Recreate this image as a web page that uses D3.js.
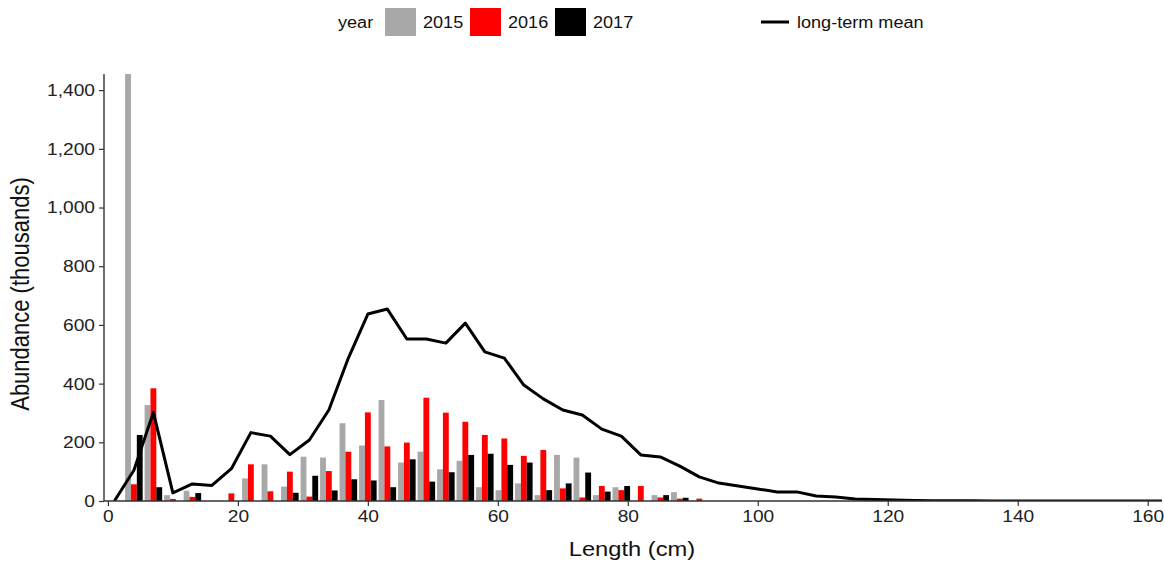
<!DOCTYPE html>
<html>
<head>
<meta charset="utf-8">
<script src="https://cdn.jsdelivr.net/npm/d3@7"></script>
<style>
  html, body { margin: 0; padding: 0; background: #fff; }
  svg { display: block; font-family: "Liberation Sans", Arial, sans-serif; }
</style>
</head>
<body>
<svg id="chart" width="1164" height="561"></svg>
<script>
// ---- data ----
const lengths = [1,4,7,10,13,16,19,22,25,28,31,34,37,40,43,46,49,52,55,58,61,64,67,70,73,76,79,82,85,88,91];
const y2015 = [0,1455,327,20,35,0,0,77,125,49,151,148,265,189,344,131,168,108,137,47,37,60,20,157,148,20,47,0,20,30,0];
const y2016 = [0,57,384,7,14,0,26,125,33,100,15,102,168,302,186,199,352,301,270,225,213,154,174,43,12,51,37,51,12,8,8];
const y2017 = [0,225,47,0,27,0,0,0,0,28,86,36,74,70,47,142,66,98,157,161,123,131,37,60,97,32,51,0,20,11,0];
const years = ["2015","2016","2017"];
const yearColors = ["#A8A8A8","#FF0000","#000000"];
const meanLengths = [1,4,7,10,13,16,19,22,25,28,31,34,37,40,43,46,49,52,55,58,61,64,67,70,73,76,79,82,85,88,91,94,97,100,103,106,109,112,115,118,121,124,127,130,133,136,139,142,145,148,151,154,157,160,163];
const meanValues = [0,105,302,28,58,53,110,233,221,158,208,310,487,637,654,552,552,538,606,508,487,395,348,310,293,245,221,157,150,119,82,61,51,41,31,31,17,14,7,5,3,2,1,1,1,0,0,0,0,0,0,0,0,0,0];
const xTicks = [0,20,40,60,80,100,120,140,160];
const yTicks = [0,200,400,600,800,1000,1200,1400];

// ---- layout ----
const svg = d3.select("#chart");
const SX = 1.13; // horizontal stretch of glyphs in reference
const x = d3.scaleLinear().domain([-0.6, 162.2]).range([104, 1162]);
const y = d3.scaleLinear().domain([0, 1455]).range([501, 74]);
const series = [y2015, y2016, y2017];
const barW = 0.9;
const offset = d3.scaleOrdinal().domain(years).range([-barW, 0, barW]);

svg.append("defs").append("clipPath").attr("id","clip")
  .append("rect").attr("x",104).attr("y",74).attr("width",1162-104).attr("height",501-74);

const plot = svg.append("g").attr("clip-path","url(#clip)");

// bars
years.forEach((yr, i) => {
  plot.append("g").selectAll("rect")
    .data(lengths.map((L, j) => ({L, v: series[i][j]})).filter(d => d.v > 0))
    .join("rect")
    .attr("x", d => x(d.L + offset(yr) - barW/2))
    .attr("width", d => x(d.L + offset(yr) + barW/2) - x(d.L + offset(yr) - barW/2))
    .attr("y", d => y(d.v))
    .attr("height", d => y(0) - y(d.v))
    .attr("fill", yearColors[i]);
});

// long-term mean line
const line = d3.line().x((d,i) => x(meanLengths[i])).y(d => y(d));
plot.append("path").datum(meanValues)
  .attr("d", line).attr("fill","none").attr("stroke","#000")
  .attr("stroke-width",3).attr("stroke-linejoin","round");

// axes
const axisColor = "#333";
const xAxis = svg.append("g").attr("transform","translate(0,501)")
  .call(d3.axisBottom(x).tickValues(xTicks).tickSize(5).tickPadding(4).tickFormat(d3.format("d")));
xAxis.select(".domain").attr("d", "M104,0H1162");
const yAxis = svg.append("g").attr("transform","translate(104,0)")
  .call(d3.axisLeft(y).tickValues(yTicks).tickSize(5).tickPadding(4).tickFormat(d3.format(",")));
yAxis.select(".domain").attr("d", "M0,74V501");
[xAxis, yAxis].forEach(a => {
  a.select(".domain").attr("stroke", axisColor).attr("stroke-width",1.4);
  a.selectAll(".tick line").attr("stroke", axisColor).attr("stroke-width",1.2);
  a.selectAll(".tick text").attr("fill","#222").attr("font-size",17)
    .attr("font-family","'Liberation Sans', Arial, sans-serif");
});
xAxis.selectAll(".tick text").attr("transform", `scale(${SX},1)`).attr("dy","0.8em").attr("y",7);
yAxis.selectAll(".tick text").attr("transform", `scale(${SX},1)`).attr("x", -9/SX);

// axis titles
svg.append("text").attr("transform", `translate(632,556) scale(${SX},1)`)
  .attr("text-anchor","middle").attr("font-size",21).attr("fill","#111").text("Length (cm)");
svg.append("text").attr("transform", `translate(29,294) scale(${SX},1) rotate(-90)`)
  .attr("text-anchor","middle").attr("font-size",22).attr("fill","#111").text("Abundance (thousands)");

// legend
const lg = svg.append("g");
const ly = 22;
lg.append("text").attr("transform", `translate(338,${ly}) scale(${SX},1)`)
  .attr("dy","0.35em").attr("font-size",16).attr("fill","#111").text("year");
const keyX = [385, 470, 555];
years.forEach((yr, i) => {
  lg.append("rect").attr("x", keyX[i]).attr("y", ly - 14).attr("width", 31).attr("height", 28)
    .attr("fill", yearColors[i]);
  lg.append("text").attr("transform", `translate(${keyX[i] + 38},${ly}) scale(${SX},1)`)
    .attr("dy","0.35em").attr("font-size",16).attr("fill","#111").text(yr);
});
lg.append("line").attr("x1",761).attr("x2",789).attr("y1",ly).attr("y2",ly)
  .attr("stroke","#000").attr("stroke-width",3);
lg.append("text").attr("transform", `translate(797,${ly}) scale(${SX},1)`)
  .attr("dy","0.35em").attr("font-size",16).attr("fill","#111").text("long-term mean");
</script>
</body>
</html>
